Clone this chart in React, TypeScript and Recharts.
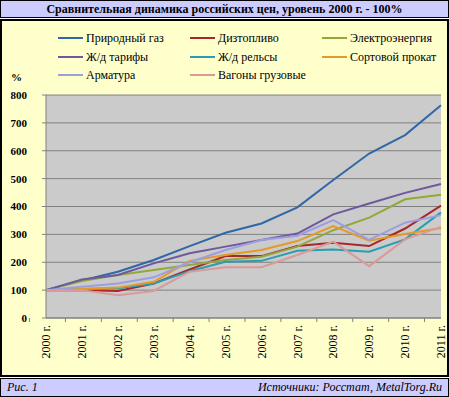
import React from 'react';
import { LineChart, Line, XAxis, YAxis, CartesianGrid } from 'recharts';

const years = ['2000 г.', '2001 г.', '2002 г.', '2003 г.', '2004 г.', '2005 г.', '2006 г.', '2007 г.', '2008 г.', '2009 г.', '2010 г.', '2011 г.'];
const gas = [100, 135, 166, 208, 258, 306, 339, 397, 495, 590, 656, 763];
const diesel = [100, 100, 97, 124, 174, 222, 222, 258, 270, 258, 321, 403];
const electricity = [100, 133, 154, 172, 190, 208, 220, 256, 315, 360, 426, 442];
const railTariffs = [100, 138, 154, 196, 232, 256, 280, 303, 372, 411, 449, 481];
const rails = [100, 104, 107, 124, 168, 202, 205, 241, 246, 238, 282, 379];
const sectionSteel = [100, 104, 109, 130, 205, 226, 244, 276, 330, 277, 301, 323];
const rebar = [100, 112, 124, 146, 200, 244, 280, 295, 351, 280, 342, 369];
const wagons = [100, 100, 82, 97, 166, 182, 182, 226, 274, 186, 282, 327];
const yTicks = [0, 100, 200, 300, 400, 500, 600, 700, 800];

const titleText = 'Сравнительная динамика российских цен, уровень 2000 г. - 100%';
const figText = 'Рис. 1';
const sourceText = 'Источники: Росстат, MetalTorg.Ru';

const series = [
  { key: 'gas', name: 'Природный газ', values: gas, color: '#2f67a8' },
  { key: 'diesel', name: 'Дизтопливо', values: diesel, color: '#a8282a' },
  { key: 'electricity', name: 'Электроэнергия', values: electricity, color: '#93a83a' },
  { key: 'railTariffs', name: 'Ж/д тарифы', values: railTariffs, color: '#6e589e' },
  { key: 'rails', name: 'Ж/д рельсы', values: rails, color: '#2a9db3' },
  { key: 'sectionSteel', name: 'Сортовой прокат', values: sectionSteel, color: '#e49a2a' },
  { key: 'rebar', name: 'Арматура', values: rebar, color: '#9c9ee0' },
  { key: 'wagons', name: 'Вагоны грузовые', values: wagons, color: '#d99a98' },
];

const data = years.map((y, i) => {
  const row: Record<string, any> = { year: y };
  series.forEach((s) => { row[s.key] = s.values[i]; });
  return row;
});

const FONT = "'Times New Roman', 'Liberation Serif', 'DejaVu Serif', serif";
const W = 449;
const H = 397;
const PLOT_LEFT = 46;
const PLOT_RIGHT = 8;
const PLOT_TOP = 95;
const MARGIN_BOTTOM = 21;
const X_AXIS_H = 58;
const PLOT_BOTTOM = H - MARGIN_BOTTOM - X_AXIS_H;
const BAND = (W - PLOT_LEFT - PLOT_RIGHT) / years.length;

const XTick = (props: any) => {
  const { x, payload, index } = props;
  const lines = [
    <line key="l" x1={x - BAND / 2} x2={x - BAND / 2} y1={PLOT_BOTTOM} y2={PLOT_BOTTOM + 4} stroke="#808080" />,
  ];
  if (index === years.length - 1) {
    lines.push(<line key="r" x1={x + BAND / 2} x2={x + BAND / 2} y1={PLOT_BOTTOM} y2={PLOT_BOTTOM + 4} stroke="#808080" />);
  }
  const ty = PLOT_BOTTOM + 7;
  return (
    <g>
      {lines}
      <text
        x={x}
        y={ty}
        transform={`rotate(-90, ${x}, ${ty})`}
        textAnchor="end"
        dy="0.35em"
        fontFamily={FONT}
        fontSize={12}
        fill="#000"
      >
        {payload.value}
      </text>
    </g>
  );
};

const legendCols = [58, 190, 322];
const legendRows = [38, 57, 75];

export default function App() {
  return (
    <div style={{ position: 'absolute', left: 0, top: 0, width: W, height: H, background: '#fff', fontFamily: FONT }}>
      <div style={{ position: 'absolute', left: 0, top: 0, width: W - 2, height: 16, background: '#ccccff', border: '1px solid #000', textAlign: 'center', fontWeight: 'bold', fontSize: 12, lineHeight: '16px', color: '#000' }}>
        {titleText}
      </div>
      <div style={{ position: 'absolute', left: 0, top: 19, width: W - 4, height: 354, background: '#ffffcc', border: '2px solid #000' }} />
      <div style={{ position: 'absolute', left: 0, top: 378, width: W - 2, height: 17, background: '#ccccff', border: '1px solid #000', fontStyle: 'italic', fontSize: 12, lineHeight: '17px', color: '#000' }}>
        <span style={{ position: 'absolute', left: 6 }}>{figText}</span>
        <span style={{ position: 'absolute', right: 6 }}>{sourceText}</span>
      </div>
      {series.map((s, i) => {
        const cx = legendCols[i % 3];
        const cy = legendRows[Math.floor(i / 3)];
        return (
          <div key={s.key} style={{ position: 'absolute', left: cx, top: cy - 8, height: 16, display: 'flex', alignItems: 'center', fontSize: 12, color: '#000', whiteSpace: 'nowrap' }}>
            <div style={{ width: 25, height: 2, background: s.color, marginRight: 3 }} />
            <span>{s.name}</span>
          </div>
        );
      })}
      <div style={{ position: 'absolute', left: 11, top: 71, fontSize: 11, fontWeight: 'bold', color: '#000' }}>%</div>
      <div style={{ position: 'absolute', left: 0, top: 0 }}>
        <LineChart width={W} height={H} data={data} margin={{ top: PLOT_TOP, right: PLOT_RIGHT, bottom: MARGIN_BOTTOM, left: 0 }}>
          <CartesianGrid vertical={false} stroke="#808080" fill="#cbcbcb" strokeWidth={1} />
          <XAxis
            dataKey="year"
            height={X_AXIS_H}
            interval={0}
            stroke="#808080"
            tickLine={false}
            tick={<XTick />}
          />
          <YAxis
            width={PLOT_LEFT}
            domain={[0, 800]}
            ticks={yTicks}
            interval={0}
            stroke="#808080"
            tickSize={4}
            tickMargin={15}
            tick={{ fontFamily: FONT, fontSize: 11, fontWeight: 'bold', fill: '#000' }}
          />
          {series.map((s) => (
            <Line
              key={s.key}
              dataKey={s.key}
              name={s.name}
              stroke={s.color}
              strokeWidth={2}
              dot={false}
              isAnimationActive={false}
            />
          ))}
        </LineChart>
      </div>
    </div>
  );
}
